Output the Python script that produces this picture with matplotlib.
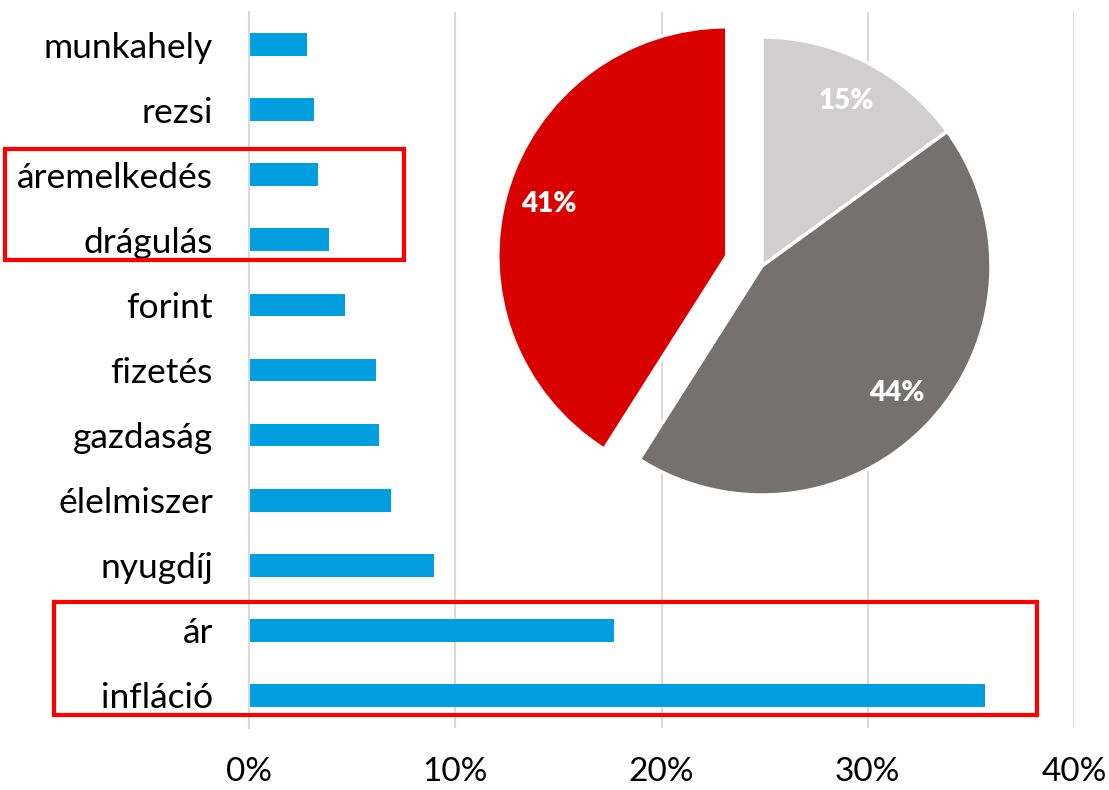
import matplotlib
matplotlib.use("Agg")
import matplotlib.pyplot as plt
from matplotlib.patches import Rectangle

plt.rcParams['font.family'] = ['Lato', 'DejaVu Sans']

categories = ["munkahely", "rezsi", "áremelkedés", "drágulás", "forint", "fizetés",
              "gazdaság", "élelmiszer", "nyugdíj", "ár", "infláció"]
shares = [2.8, 3.15, 3.35, 3.9, 4.65, 6.15, 6.3, 6.9, 8.95, 17.7, 35.7]  # percent
xticks = [0, 10, 20, 30, 40]
xtick_labels = ["0%", "10%", "20%", "30%", "40%"]

pie_values = [15, 44, 41]
pie_colors = ["#D0CECE", "#767171", "#D90000"]

W, H = 1109, 790
fig = plt.figure(figsize=(W / 100, H / 100), dpi=100)

# bar chart axes
x0, x1, ytop, ybot = 249, 1074, 12, 728
ax = fig.add_axes([x0 / W, (H - ybot) / H, (x1 - x0) / W, (ybot - ytop) / H])
ypos = list(range(len(categories)))
ax.barh(ypos, shares, height=0.35, color="#019FE0", zorder=2)
ax.set_xlim(0, 40)
ax.set_ylim(len(categories) - 0.5, -0.5)
ax.set_yticks(ypos)
ax.set_yticklabels(categories, fontsize=25.5)
ax.set_xticks(xticks)
ax.set_xticklabels(xtick_labels, fontsize=24)
ax.tick_params(axis='y', length=0, pad=26)
ax.tick_params(axis='x', length=0, pad=21)
ax.grid(axis='x', color="#D9D9D9", linewidth=1.5, zorder=0)
for s in ["top", "right", "bottom"]:
    ax.spines[s].set_visible(False)
ax.spines["left"].set_color("#D9D9D9")
ax.spines["left"].set_linewidth(1.5)

# pie axes
cx, cy, r = 762, 266, 229
half = 300
pax = fig.add_axes([(cx - half) / W, (H - cy - half) / H, 2 * half / W, 2 * half / H])
wedges, texts, autotexts = pax.pie(
    pie_values, colors=pie_colors, startangle=90, counterclock=False,
    explode=[0, 0, 0.16], radius=1, autopct=lambda p: f"{p:.0f}%",
    pctdistance=0.81, wedgeprops=dict(edgecolor="white", linewidth=2.5),
    textprops=dict(color="white", fontsize=20, fontweight="heavy"))
pax.set_xlim(-half / r, half / r)
pax.set_ylim(-half / r, half / r)
pax.set_aspect('equal')
pax.axis('off')

# red highlight boxes (pixel coordinates)
def box(xa, ya, xb, yb):
    rect = Rectangle((xa / W, 1 - yb / H), (xb - xa) / W, (yb - ya) / H,
                     transform=fig.transFigure, fill=False, edgecolor="#FF0000",
                     linewidth=3, zorder=10)
    fig.patches.append(rect)

box(5, 149, 404, 260)
box(54, 602, 1037, 715)

fig.savefig("out.png", dpi=100)
